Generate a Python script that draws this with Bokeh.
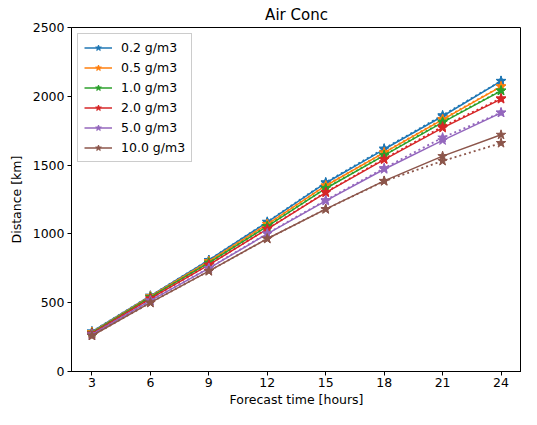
from bokeh.plotting import figure
from bokeh.models import Range1d, FixedTicker, Legend, LegendItem
from bokeh.embed import file_html
from bokeh.resources import INLINE

hours = [3, 6, 9, 12, 15, 18, 21, 24]
labels = ["0.2 g/m3", "0.5 g/m3", "1.0 g/m3", "2.0 g/m3", "5.0 g/m3", "10.0 g/m3"]
colors = ["#1f77b4", "#ff7f0e", "#2ca02c", "#d62728", "#9467bd", "#8c564b"]

# solid series
s_02 = [290, 550, 810, 1085, 1370, 1615, 1855, 2110]
s_05 = [285, 545, 800, 1070, 1350, 1590, 1830, 2070]
s_10 = [280, 540, 790, 1055, 1330, 1570, 1810, 2040]
s_20 = [275, 530, 775, 1035, 1300, 1540, 1770, 1980]
s_50 = [268, 515, 750, 1000, 1240, 1470, 1680, 1880]
s_100 = [260, 500, 730, 965, 1180, 1385, 1565, 1720]

# dotted series
d_02 = [290, 550, 810, 1088, 1375, 1620, 1862, 2112]
d_05 = [285, 545, 800, 1072, 1352, 1592, 1835, 2072]
d_10 = [280, 540, 790, 1056, 1332, 1572, 1815, 2042]
d_20 = [275, 530, 776, 1037, 1303, 1545, 1780, 1985]
d_50 = [268, 515, 752, 1003, 1245, 1478, 1700, 1882]
d_100 = [260, 500, 730, 965, 1180, 1383, 1530, 1660]

solid = [s_02, s_05, s_10, s_20, s_50, s_100]
dotted = [d_02, d_05, d_10, d_20, d_50, d_100]
yticks = [0, 500, 1000, 1500, 2000, 2500]

p = figure(width=521, height=409, output_backend="svg", toolbar_location=None,
           x_range=Range1d(1.95, 25.05), y_range=Range1d(0, 2500),
           min_border_left=71, min_border_right=0, min_border_top=14, min_border_bottom=3,
           title="Air Conc")
p.title.align = "center"
p.title.text_font = "DejaVu Sans"
p.title.text_font_style = "normal"
p.title.text_font_size = "15px"
p.title.text_color = "black"
p.title.standoff = 7

p.xgrid.visible = False
p.ygrid.visible = False
p.outline_line_color = "black"
p.outline_line_alpha = 1
p.outline_line_width = 1
p.background_fill_color = "white"
p.border_fill_color = "white"

for ax in (p.xaxis[0], p.yaxis[0]):
    ax.major_tick_in = 0
    ax.major_tick_out = 4
    ax.minor_tick_line_color = None
    ax.axis_line_color = "black"
    ax.major_tick_line_color = "black"
    ax.major_label_text_font = "DejaVu Sans"
    ax.major_label_text_font_size = "12.5px"
    ax.major_label_text_color = "black"
    ax.axis_label_text_font = "DejaVu Sans"
    ax.axis_label_text_font_size = "12.5px"
    ax.axis_label_text_font_style = "normal"
    ax.axis_label_text_color = "black"

p.xaxis.ticker = FixedTicker(ticks=hours)
p.yaxis.ticker = FixedTicker(ticks=yticks)
p.xaxis.axis_label = "Forecast time [hours]"
p.yaxis.axis_label = "Distance [km]"
p.xaxis.axis_label_standoff = 2
p.yaxis.axis_label_standoff = 6
p.xaxis.major_label_standoff = 2
p.yaxis.major_label_standoff = 3

items = []
for lab, col, ys, yd in zip(labels, colors, solid, dotted):
    r1 = p.line(hours, ys, line_color=col, line_width=1.5)
    r2 = p.scatter(hours, ys, marker="star", size=10, fill_color=col, line_color=col)
    p.line(hours, yd, line_color=col, line_width=1.8, line_dash="2 3")
    p.scatter(hours, yd, marker="star", size=10, fill_color=col, line_color=col)
    items.append(LegendItem(label=lab, renderers=[r1, r2]))

legend = Legend(items=items, location="top_left")
legend.label_text_font = "DejaVu Sans"
legend.label_text_font_size = "12.5px"
legend.label_text_color = "black"
legend.glyph_width = 28
legend.glyph_height = 15
legend.label_height = 15
legend.spacing = 5
legend.padding = 6
legend.margin = 6
legend.label_standoff = 9
legend.border_line_color = "#cccccc"
legend.border_line_alpha = 1
legend.background_fill_alpha = 0.8
p.add_layout(legend)

open("out.html", "w").write(file_html(p, INLINE))
